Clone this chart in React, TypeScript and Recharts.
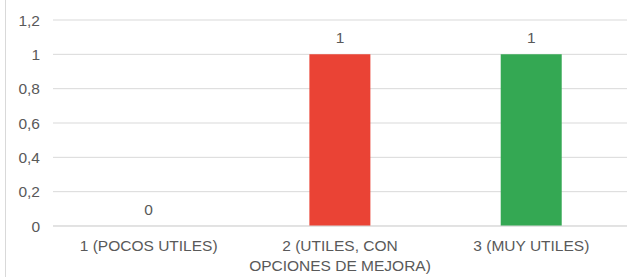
import React from "react";
import { ComposedChart, Bar, Line, XAxis, YAxis, CartesianGrid, LabelList, Cell, Text } from "recharts";

const categories = ["1 (POCOS UTILES)", "2 (UTILES, CON OPCIONES DE MEJORA)", "3 (MUY UTILES)"];
const values = [0, 1, 1];
const barColors = ["#EA4335", "#EA4335", "#34A853"];
const yTicks = [0, 0.2, 0.4, 0.6, 0.8, 1, 1.2];

const data = categories.map((c, i) => ({ name: c, value: values[i] }));

const FONT = "'Liberation Sans', Arial, sans-serif";
const TEXT = "#595959";
const FS = 15.5;

const fmt = (v: number) => String(v).replace(".", ",");

const XTick = (props: any) => {
  const { x, y, payload } = props;
  return (
    <Text
      x={x}
      y={y}
      width={190}
      textAnchor="middle"
      verticalAnchor="start"
      lineHeight={20}
      fill={TEXT}
      fontSize={FS}
      fontFamily={FONT}
    >
      {payload.value}
    </Text>
  );
};

export default function App() {
  return (
    <div style={{ position: "absolute", left: 0, top: 0, width: 627, height: 277, background: "#fff" }}>
      <div style={{ position: "absolute", left: 5, top: 0, width: 1, height: 277, background: "#d9d9d9" }} />
      <ComposedChart
        width={627}
        height={277}
        data={data}
        margin={{ top: 20, right: 0, bottom: 6, left: 0 }}
        barCategoryGap="34%"
      >
        <CartesianGrid vertical={false} stroke="#d9d9d9" />
        <XAxis
          dataKey="name"
          axisLine={{ stroke: "#d9d9d9" }}
          tickLine={false}
          height={45}
          tick={<XTick />}
          tickMargin={8}
          interval={0}
        />
        <YAxis
          domain={[0, 1.2]}
          ticks={yTicks}
          width={53}
          axisLine={false}
          tickLine={false}
          tickMargin={7}
          tickFormatter={fmt}
          tick={{ fill: TEXT, fontSize: FS, fontFamily: FONT }}
        />
        <Bar dataKey="value" isAnimationActive={false}>
          {data.map((d, i) => (
            <Cell key={d.name} fill={barColors[i]} />
          ))}
        </Bar>
        <Line dataKey="value" stroke="none" dot={false} activeDot={false} isAnimationActive={false}>
          <LabelList
            dataKey="value"
            position="top"
            offset={11}
            fill={TEXT}
            fontSize={FS}
            fontFamily={FONT}
          />
        </Line>
      </ComposedChart>
    </div>
  );
}
